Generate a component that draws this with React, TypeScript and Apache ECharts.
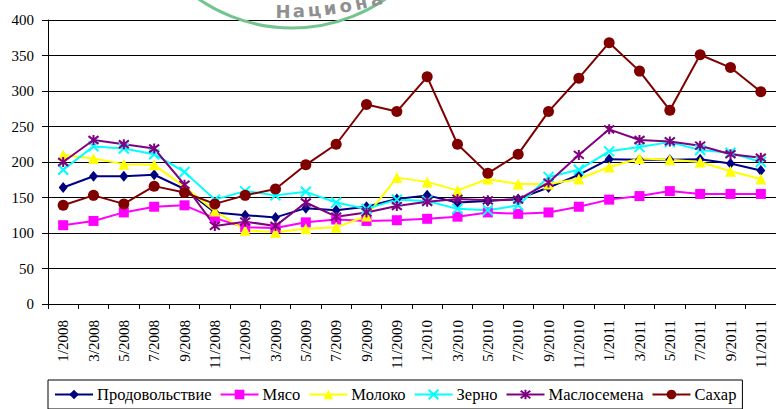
import React, { useEffect, useRef } from "react";
import * as echarts from "echarts";

const categories = [
  "1/2008", "3/2008", "5/2008", "7/2008", "9/2008", "11/2008",
  "1/2009", "3/2009", "5/2009", "7/2009", "9/2009", "11/2009",
  "1/2010", "3/2010", "5/2010", "7/2010", "9/2010", "11/2010",
  "1/2011", "3/2011", "5/2011", "7/2011", "9/2011", "11/2011",
];

const seriesNames = ["Продовольствие", "Мясо", "Молоко", "Зерно", "Маслосемена", "Сахар"];

const food = [164, 180, 180, 182, 162, 129, 125, 122, 135, 132, 137, 148, 153, 143, 145, 148, 164, 182, 204, 203, 203, 204, 198, 188];
const meat = [111, 117, 129, 137, 139, 121, 108, 107, 115, 119, 117, 118, 120, 123, 129, 127, 129, 137, 147, 152, 159, 155, 155, 155];
const dairy = [210, 205, 197, 196, 165, 131, 104, 101, 106, 108, 124, 178, 172, 160, 176, 169, 169, 176, 193, 205, 203, 200, 187, 176];
const grains = [189, 222, 219, 211, 186, 147, 159, 153, 158, 143, 134, 147, 145, 134, 132, 139, 179, 189, 215, 221, 228, 217, 213, 200];
const oils = [200, 231, 225, 219, 168, 110, 116, 110, 143, 123, 129, 138, 144, 148, 146, 147, 171, 210, 246, 231, 229, 223, 211, 206];
const sugar = [139, 153, 141, 166, 157, 141, 153, 162, 196, 225, 281, 271, 320, 225, 184, 211, 271, 318, 368, 328, 273, 351, 333, 299];

const yTicks = { min: 0, max: 400, interval: 50 };

const watermarkText = "Национа";

const CROSS = "path://M0,0L10,10M10,0L0,10";
const STAR = "path://M0,0L10,10M10,0L0,10M5,-1.5L5,11.5";

export default function App() {
  const ref = useRef<HTMLDivElement>(null);

  useEffect(() => {
    if (!ref.current) return;
    const chart = echarts.init(ref.current, null, { renderer: "svg" });
    const serif = "'Liberation Serif', 'Times New Roman', serif";

    const mk = (
      name: string,
      data: number[],
      color: string,
      symbol: string,
      symbolSize: number | number[],
      lineWidth: number,
      stroke = false
    ) => ({
      name,
      type: "line",
      data,
      symbol,
      symbolSize,
      showSymbol: true,
      showAllSymbol: true,
      lineStyle: { color, width: lineWidth },
      itemStyle: stroke
        ? { color, borderColor: color, borderWidth: 2 }
        : { color, borderWidth: 0 },
      emphasis: { disabled: true },
    });

    // stamp ring
    const cx = 292;
    const cy = -137;
    // text follows a gentler curve
    const tcx = 283;
    const tcy = -356;
    const rText = 376;
    const chars = watermarkText.split("").map((ch, i) => {
      const theta = ((i * 2.45) * Math.PI) / 180;
      return {
        type: "text",
        x: tcx + rText * Math.sin(theta),
        y: tcy + rText * Math.cos(theta),
        rotation: theta,
        z: 100,
        style: {
          text: ch,
          fill: "#909090",
          font: "bold 18px 'DejaVu Sans', sans-serif",
          align: "center",
          verticalAlign: "bottom",
        },
      };
    });

    chart.setOption({
      animation: false,
      backgroundColor: "#fff",
      grid: { left: 48, top: 20, width: 734, height: 284, containLabel: false },
      legend: {
        left: 48,
        top: 380,
        padding: [6, 6, 6, 6],
        borderColor: "#000",
        borderWidth: 1,
        backgroundColor: "#fff",
        itemGap: 8,
        itemWidth: 38,
        itemHeight: 12,
        selectedMode: false,
        data: seriesNames,
        textStyle: { fontFamily: serif, fontSize: 16.5, color: "#000", padding: [0, 0, 0, -1] },
      },
      xAxis: {
        type: "category",
        data: categories,
        boundaryGap: true,
        axisLine: { show: true, lineStyle: { color: "#000", width: 1 } },
        axisTick: { show: true, length: 5, lineStyle: { color: "#000" } },
        axisLabel: {
          rotate: 90,
          interval: 0,
          margin: 16,
          fontFamily: serif,
          fontSize: 15,
          color: "#000",
        },
        splitLine: { show: false },
      },
      yAxis: {
        type: "value",
        min: yTicks.min,
        max: yTicks.max,
        interval: yTicks.interval,
        axisLine: { show: true, lineStyle: { color: "#000", width: 1 } },
        axisTick: { show: true, length: 6, lineStyle: { color: "#000" } },
        axisLabel: { margin: 14, fontFamily: serif, fontSize: 15, color: "#000" },
        splitLine: { show: true, lineStyle: { color: "#000", width: 1 } },
      },
      series: [
        mk(seriesNames[0], food, "#000080", "diamond", [9, 11], 2),
        mk(seriesNames[1], meat, "#FF00FF", "rect", 10, 2),
        mk(seriesNames[2], dairy, "#FFFF00", "triangle", 11, 2),
        mk(seriesNames[3], grains, "#00FFFF", CROSS, 10, 2, true),
        mk(seriesNames[4], oils, "#800080", STAR, 10, 2, true),
        mk(seriesNames[5], sugar, "#800000", "circle", 11, 2),
      ],
      graphic: [
        {
          type: "arc",
          z: 100,
          shape: { cx, cy, r: 165, startAngle: 0, endAngle: Math.PI },
          style: { stroke: "#74c48e", lineWidth: 3, fill: "none" },
        },
        ...chars,
      ],
    });

    return () => chart.dispose();
  }, []);

  return (
    <div
      ref={ref}
      style={{ position: "fixed", left: 0, top: 0, width: 776, height: 409, background: "#fff" }}
    />
  );
}
